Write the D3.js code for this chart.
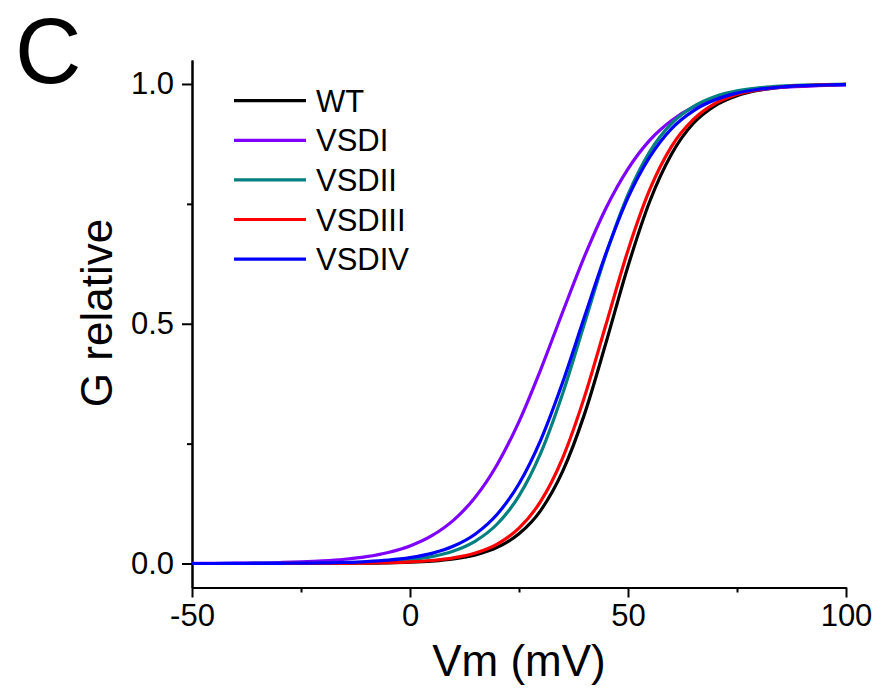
<!DOCTYPE html>
<html>
<head>
<meta charset="utf-8">
<script src="https://cdn.jsdelivr.net/npm/d3@7/dist/d3.min.js"></script>
<style>
  html, body { margin: 0; padding: 0; background: #fff; }
  svg { display: block; font-family: "Liberation Sans", Arial, Helvetica, sans-serif; }
</style>
</head>
<body>
<svg id="chart" width="884" height="688"></svg>
<script>
// ---- Data ----
const voltages = [-50,-45,-40,-35,-30,-25,-20,-15,-10,-5,0,5,10,15,20,25,30,35,40,45,50,55,60,65,70,75,80,85,90,95,100];
const seriesNames = ["WT","VSDI","VSDII","VSDIII","VSDIV"];
const seriesColors = ["#000000","#8000ff","#008080","#ff0000","#0000ff"];
const wtValues     = [0,0,0.00001,0.00002,0.00004,0.00008,0.00016,0.0004,0.00074,0.0014,0.0027,0.0051,0.0096,0.018,0.0336,0.0619,0.111,0.192,0.311,0.462,0.620,0.7555,0.854,0.918,0.955,0.9757,0.987,0.9931,0.9964,0.9981,0.999];
const vsd1Values   = [0.00031,0.0005,0.0008,0.0013,0.0021,0.0034,0.0055,0.0089,0.0143,0.0230,0.0366,0.058,0.0905,0.1387,0.2066,0.296,0.405,0.524,0.640,0.742,0.823,0.883,0.924,0.952,0.970,0.981,0.988,0.993,0.995,0.997,0.998];
const vsd2Values   = [0.00002,0.00004,0.00007,0.00012,0.00022,0.0004,0.00073,0.00132,0.0024,0.0044,0.0080,0.0145,0.0262,0.0469,0.0824,0.141,0.2306,0.354,0.5,0.646,0.769,0.859,0.918,0.953,0.974,0.9855,0.992,0.9956,0.9976,0.9987,0.9993];
const vsd3Values   = [0,0.00001,0.00002,0.00004,0.00008,0.00014,0.00027,0.0005,0.00095,0.00178,0.00335,0.0063,0.0118,0.0219,0.0405,0.0736,0.130,0.220,0.347,0.5,0.653,0.780,0.870,0.926,0.9595,0.978,0.988,0.9937,0.9966,0.9982,0.9991];
const vsd4Values   = [0.00005,0.00008,0.00015,0.00025,0.00044,0.00077,0.00134,0.00234,0.0041,0.0071,0.0123,0.0212,0.0364,0.0617,0.1028,0.1664,0.258,0.3775,0.514,0.648,0.763,0.848,0.907,0.944,0.967,0.981,0.989,0.9937,0.9964,0.9979,0.9988];
const seriesValues = [wtValues, vsd1Values, vsd2Values, vsd3Values, vsd4Values];
const xMajorTicks = [-50,0,50,100];
const xMinorTicks = [-25,25,75];
const yMajorTicks = [0,0.5,1.0];
const yMinorTicks = [0.25,0.75];

// ---- Layout ----
const svg = d3.select("#chart");
const x = d3.scaleLinear().domain([-50,100]).range([192,846]);
const y = d3.scaleLinear().domain([-0.05,1.05]).range([587.5,60]);

// Panel label
svg.append("text").attr("x",15).attr("y",83).attr("font-size",92).attr("fill","#000").text("C");

// Axes
const xAxisMajor = d3.axisBottom(x).tickValues(xMajorTicks).tickSize(10).tickSizeOuter(0).tickPadding(6).tickFormat(d => String(d));
const xAxisMinor = d3.axisBottom(x).tickValues(xMinorTicks).tickSize(5).tickSizeOuter(0).tickFormat("");
const yAxisMajor = d3.axisLeft(y).tickValues(yMajorTicks).tickSize(10).tickSizeOuter(0).tickPadding(8).tickFormat(d => d.toFixed(1));
const yAxisMinor = d3.axisLeft(y).tickValues(yMinorTicks).tickSize(5).tickSizeOuter(0).tickFormat("");

function styleAxis(g){
  g.selectAll(".domain").attr("stroke","#000").attr("stroke-width",2);
  g.selectAll(".tick line").attr("stroke","#000").attr("stroke-width",2);
  g.selectAll(".tick text").attr("fill","#000").attr("font-size",31).attr("font-family","Liberation Sans, Arial, sans-serif");
}
svg.append("g").attr("transform","translate(0,587.5)").call(xAxisMajor).call(styleAxis);
svg.append("g").attr("transform","translate(0,587.5)").call(xAxisMinor).call(styleAxis);
svg.append("g").attr("transform","translate(192,0)").call(yAxisMajor).call(styleAxis);
svg.append("g").attr("transform","translate(192,0)").call(yAxisMinor).call(styleAxis);

// Axis titles
svg.append("text").attr("x",519).attr("y",676).attr("text-anchor","middle").attr("font-size",44).attr("fill","#000").text("Vm (mV)");
svg.append("text").attr("transform","translate(112,313) rotate(-90)").attr("text-anchor","middle").attr("font-size",44).attr("fill","#000").text("G relative");

// Curves
const line = d3.line().x(d => x(d[0])).y(d => y(d[1])).curve(d3.curveMonotoneX);
seriesNames.forEach((name,i) => {
  const pts = voltages.map((v,j) => [v, seriesValues[i][j]]);
  svg.append("path").datum(pts).attr("d",line).attr("fill","none")
    .attr("stroke",seriesColors[i]).attr("stroke-width",3.2).attr("stroke-linejoin","round");
});

// Legend
const legend = svg.append("g");
seriesNames.forEach((name,i) => {
  const ly = 100.7 + i*39.6;
  legend.append("line").attr("x1",234).attr("x2",306).attr("y1",ly).attr("y2",ly)
    .attr("stroke",seriesColors[i]).attr("stroke-width",3.2);
  legend.append("text").attr("x",316).attr("y",ly+11).attr("font-size",31).attr("fill","#000").text(name);
});
</script>
</body>
</html>
